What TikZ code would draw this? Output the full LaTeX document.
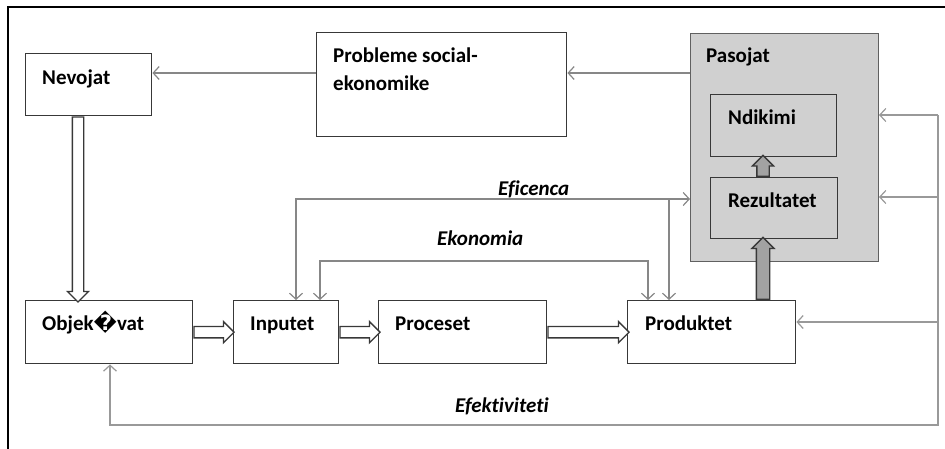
\documentclass[tikz,border=0pt]{standalone}
\usepackage{fontspec}
\setmainfont{Carlito}[Ligatures=NoCommon]
\newfontfamily\symfont{DejaVu Sans}
\usetikzlibrary{arrows.meta,shapes.arrows,calc}

\definecolor{boxline}{HTML}{383838}
\definecolor{linkgray}{HTML}{878787}
\definecolor{panel}{HTML}{D0D0D0}
\definecolor{blockfill}{HTML}{A2A2A2}

\tikzset{
  box/.style={draw=boxline, line width=1.4pt, inner sep=0pt, rectangle, fill=white},
  lbl/.style={anchor=base west, inner sep=0pt, font=\fontsize{21}{28}\selectfont\bfseries},
  ilbl/.style={anchor=base west, inner sep=0pt, font=\fontsize{21}{28}\selectfont\bfseries\itshape},
  barb/.tip={Straight Barb[length=6pt,width=13pt,line width=1.2pt]},
  link/.style={draw=linkgray, line width=1.8pt, -barb},
  efflink/.style={draw=linkgray, line width=2.2pt},
  ecolink/.style={draw=linkgray, line width=1.2pt},
  fblink/.style={draw=linkgray!85, line width=1.8pt, -barb},
  hollow/.style={single arrow, draw=boxline, fill=white, line width=1.3pt,
    inner xsep=0pt, inner ysep=5pt, single arrow head extend=5pt,
    single arrow tip angle=90, anchor=tail},
  solidarrow/.style={single arrow, draw=boxline, fill=blockfill, line width=1.3pt,
    inner xsep=0pt, inner ysep=6pt, single arrow head extend=4.5pt,
    single arrow tip angle=90, anchor=tail}
}

\begin{document}
\begin{tikzpicture}[x=1pt, y=-1pt]
  \useasboundingbox (0,0) rectangle (945,448);

  % outer frame (top and left edges)
  \draw[black, line width=1.3pt] (8,460) -- (8,7) -- (960,7);

  % boxes
  \node[box, minimum width=126pt, minimum height=62pt, anchor=north west] (nev) at (25,53) {};
  \node[box, minimum width=250pt, minimum height=104pt, anchor=north west] (prob) at (316,32) {};
  \node[box, draw=boxline!80, line width=1pt, fill=panel, minimum width=188pt, minimum height=228pt, anchor=north west] (pas) at (690,33) {};
  \node[box, fill=panel, minimum width=126pt, minimum height=62pt, anchor=north west] (ndi) at (710,94) {};
  \node[box, fill=panel, minimum width=127pt, minimum height=61pt, anchor=north west] (rez) at (710,177) {};
  \node[box, minimum width=167pt, minimum height=63pt, anchor=north west] (obj) at (25,300) {};
  \node[box, minimum width=105pt, minimum height=63pt, anchor=north west] (inp) at (233,300) {};
  \node[box, minimum width=168pt, minimum height=63pt, anchor=north west] (proc) at (378,300) {};
  \node[box, minimum width=168pt, minimum height=63pt, anchor=north west] (prod) at (627,300) {};

  % box texts
  \node[lbl] (nevL) at (42,84) {Nevojat};
  \node[lbl] (probL1) at (333,62) {Probleme social-};
  \node[lbl] (probL2) at (333,90) {ekonomike};
  \node[lbl] (pasL) at (706,62) {Pasojat};
  \node[lbl] (ndiL) at (728,124) {Ndikimi};
  \node[lbl] (rezL) at (728,207) {Rezultatet};
  \node[lbl] (objL) at (42,330) {Objek{\symfont\char"FFFD}vat};
  \node[lbl] (inpL) at (250,330) {Inputet};
  \node[lbl] (procL) at (395,330) {Proceset};
  \node[lbl] (prodL) at (645,330) {Produktet};

  % hollow flow arrows
  \node[hollow, minimum height=40pt] (h1) at (obj.east) {};
  \node[hollow, minimum height=40pt] (h2) at (inp.east) {};
  \node[hollow, minimum height=81pt] (h3) at (proc.east) {};
  \node[hollow, minimum height=185pt, rotate=-90] (h4) at ($(nev.south west)+(53,0)$) {};

  % solid block arrows towards the outcomes
  \node[solidarrow, minimum height=62pt, rotate=90] (s1) at ($(prod.north west)+(136,0)$) {};
  \node[solidarrow, inner ysep=5.5pt, minimum height=21pt, rotate=90] (s2) at ($(rez.north west)+(53,0)$) {};

  % helper points for the connectors
  \coordinate (r73) at (0,73);
  \coordinate (ef1) at (296,199);
  \coordinate (ef2) at (669,199);
  \coordinate (ek1) at (320,261);
  \coordinate (ek2) at (648,261);
  \coordinate (fb1) at (938,115);
  \coordinate (fb2) at (938,197);
  \coordinate (fb3) at (938,322);
  \coordinate (fb4) at (938,425);
  \coordinate (fb5) at (110,425);

  % feedback from problems to needs
  \draw[link] (prob.west |- r73) -- (nev.east |- r73);
  \draw[link] (pas.west |- r73) -- (prob.east |- r73);

  % Eficenca
  \draw[efflink, barb-barb] (inp.north -| ef1) -- (ef1) -- (pas.west |- ef1);
  \draw[efflink, -barb] (ef2) -- (prod.north -| ef2);
  \node[ilbl] (efL) at (498,195) {Eficenca};

  % Ekonomia
  \draw[ecolink, barb-barb] (inp.north -| ek1) -- (ek1) -- (ek2) -- (prod.north -| ek2);
  \node[ilbl] (ekL) at (437,245) {Ekonomia};

  % Efektiviteti
  \draw[fblink] (fb1) -- (pas.east |- fb1);
  \draw[fblink] (fb2) -- (pas.east |- fb2);
  \draw[fblink, line width=1.3pt] (fb3) -- (prod.east |- fb3);
  \draw[fblink] (fb1) -- (fb4) -- (fb5) -- (obj.south -| fb5);
  \node[ilbl] (efkL) at (455,412) {Efektiviteti};
\end{tikzpicture}
\end{document}
